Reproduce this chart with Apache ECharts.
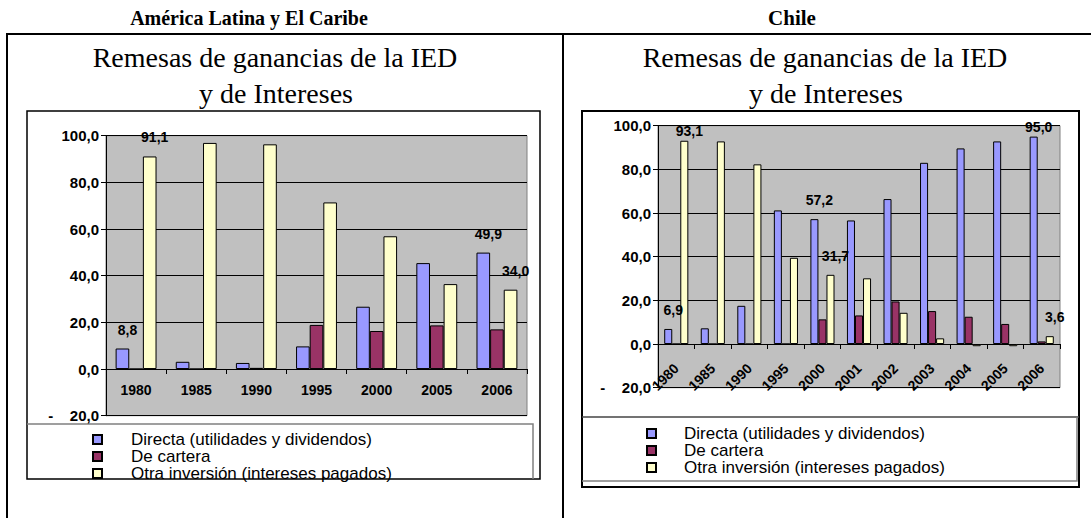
<!DOCTYPE html>
<html><head><meta charset="utf-8">
<script src="https://cdn.jsdelivr.net/npm/echarts@6/dist/echarts.min.js"></script>
<style>html,body{margin:0;padding:0;background:#fff;overflow:hidden}#c{width:1091px;height:518px}</style>
</head><body><div id="c"></div>
<script>
// ---- Data ----
const seriesNames = ['Directa (utilidades y dividendos)', 'De cartera', 'Otra inversión (intereses pagados)'];
const latCategories = ['1980','1985','1990','1995','2000','2005','2006'];
const latDirecta = [8.8, 3.1, 2.6, 9.7, 26.7, 45.4, 49.9];
const latCartera = [0.0, 0.0, 0.5, 18.9, 16.3, 18.7, 17.0];
const latOtra    = [91.1, 96.9, 96.3, 71.4, 56.9, 36.4, 34.0];
const chiCategories = ['1980','1985','1990','1995','2000','2001','2002','2003','2004','2005','2006'];
const chiDirecta = [6.9, 7.2, 17.5, 61.2, 57.2, 56.6, 66.4, 83.0, 89.6, 92.8, 95.0];
const chiCartera = [0.0, 0.0, 0.0, 0.0, 11.3, 13.1, 19.5, 15.1, 12.5, 9.2, 1.2];
const chiOtra    = [93.1, 92.8, 82.3, 39.5, 31.7, 30.1, 14.3, 2.6, -1.0, -1.0, 3.6];
// indices of bars that carry a value label
const latDirectaLabeled = [0, 6];
const latOtraLabeled = [0, 6];
const chiDirectaLabeled = [0, 4, 10];
const chiOtraLabeled = [0, 4, 10];
const yTicks = {min: -20, max: 100, interval: 20};

const colors = ['#9999FF', '#993366', '#FFFFCC'];
const SANS = 'Liberation Sans, Arial, sans-serif';
const SERIF = 'Liberation Serif, Times New Roman, serif';

function fmt(v) { return v.toFixed(1).replace('.', ','); }
function yFmt(v) { return v < 0 ? '-    ' + fmt(-v) : fmt(v); }

const labelBase = {show: true, position: 'top', distance: 12, offset: [5, 0],
  formatter: p => fmt(p.value), color: '#000', fontWeight: 'bold', fontSize: 14, fontFamily: SANS};

function items(values, labeled, tight) {
  return values.map((v, i) => {
    if (!labeled.includes(i)) return v;
    const lab = Object.assign({}, labelBase);
    if (tight && v > 90) lab.distance = 3;
    return {value: v, label: lab};
  });
}

function bar(nameIdx, values, labeled, axisIdx, catGap) {
  return {
    type: 'bar', name: seriesNames[nameIdx], xAxisIndex: axisIdx, yAxisIndex: axisIdx,
    data: items(values, labeled, axisIdx === 1),
    barGap: '0%', barCategoryGap: catGap,
    itemStyle: {color: colors[nameIdx], borderColor: '#000', borderWidth: 1},
    label: {show: false},
    emphasis: {disabled: true}
  };
}

function yAxis(gridIndex) {
  return {
    type: 'value', gridIndex, min: yTicks.min, max: yTicks.max, interval: yTicks.interval,
    axisLine: {show: true, lineStyle: {color: '#000', width: 1}},
    axisTick: {show: true, length: 5, lineStyle: {color: '#000'}},
    splitLine: {show: true, lineStyle: {color: '#000', width: 1}},
    axisLabel: {formatter: yFmt, color: '#000', fontWeight: 'bold', fontSize: 15, fontFamily: SANS, margin: 7}
  };
}

// the category axis is drawn on the zero line: offset moves it up from the grid bottom
function xAxis(gridIndex, data, rotate, offset, margin) {
  return {
    type: 'category', gridIndex, data, position: 'bottom', offset,
    axisLine: {show: true, onZero: false, lineStyle: {color: '#000', width: 1}},
    axisTick: {show: true, length: 5, lineStyle: {color: '#000'}},
    axisLabel: {color: '#000', fontWeight: 'bold', fontSize: 14, fontFamily: SANS,
      margin, rotate: rotate, interval: 0}
  };
}

function legend(left, top, pad) {
  return {
    left, top, orient: 'vertical', itemWidth: 9, itemHeight: 9, itemGap: 0,
    icon: 'rect', selectedMode: false, data: seriesNames,
    textStyle: {fontSize: 17, lineHeight: 17, color: '#000', fontFamily: SANS, padding: [0, 0, 0, pad]}
  };
}

function txt(text, x, y, size, bold) {
  return {type: 'text', x, y, silent: true, style: {text, fontSize: size, fontWeight: bold ? 'bold' : 'normal',
    fontFamily: SERIF, fill: '#000', align: 'center', verticalAlign: 'middle'}};
}
function ln(x1, y1, x2, y2, color, w) {
  return {type: 'line', silent: true, shape: {x1, y1, x2, y2}, style: {stroke: color, lineWidth: w}};
}

const chart = echarts.init(document.getElementById('c'), null, {renderer: 'svg'});
chart.setOption({
  animation: false,
  backgroundColor: '#fff',
  grid: [
    {left: 106, top: 135.7, width: 421, height: 280, show: true, backgroundColor: '#C0C0C0', borderColor: '#808080', borderWidth: 1},
    {left: 658, top: 125.7, width: 402, height: 262, show: true, backgroundColor: '#C0C0C0', borderColor: '#808080', borderWidth: 1}
  ],
  xAxis: [xAxis(0, latCategories, 0, -46.7, 14), xAxis(1, chiCategories, 45, -43.7, 22)],
  yAxis: [yAxis(0), yAxis(1)],
  legend: [legend(87, 426, 24), legend(641, 420, 23)],
  series: [
    bar(0, latDirecta, latDirectaLabeled, 0, '32%'),
    bar(1, latCartera, [], 0, '32%'),
    bar(2, latOtra, latOtraLabeled, 0, '32%'),
    bar(0, chiDirecta, chiDirectaLabeled, 1, '34%'),
    bar(1, chiCartera, [], 1, '34%'),
    bar(2, chiOtra, chiOtraLabeled, 1, '34%')
  ],
  graphic: [
    txt('América Latina y El Caribe', 249, 18, 20, true),
    txt('Chile', 792, 18, 21, true),
    txt('Remesas de ganancias de la IED', 275, 57.5, 28, false),
    txt('y de Intereses', 276, 93.5, 28, false),
    txt('Remesas de ganancias de la IED', 825, 57.5, 28, false),
    txt('y de Intereses', 826, 93.5, 28, false),
    ln(7, 34, 1091, 34, '#000', 2),
    ln(7, 33, 7, 518, '#000', 2),
    ln(563, 33, 563, 518, '#000', 2),
    {type: 'rect', silent: true, shape: {x: 27, y: 111, width: 513, height: 368}, style: {fill: 'none', stroke: '#000', lineWidth: 1.5}},
    {type: 'polyline', silent: true, shape: {points: [[27, 424], [533, 424], [533, 479]]}, style: {fill: 'none', stroke: '#808080', lineWidth: 1.5}},
    {type: 'rect', silent: true, shape: {x: 582, y: 111, width: 497, height: 376}, style: {fill: 'none', stroke: '#000', lineWidth: 2}},
    ln(582, 417, 1079, 417, '#444', 1.5),
    {type: 'polyline', silent: true, shape: {points: [[582, 481], [1077, 481], [1077, 417]]}, style: {fill: 'none', stroke: '#808080', lineWidth: 1.5}}
  ]
});
</script></body></html>
